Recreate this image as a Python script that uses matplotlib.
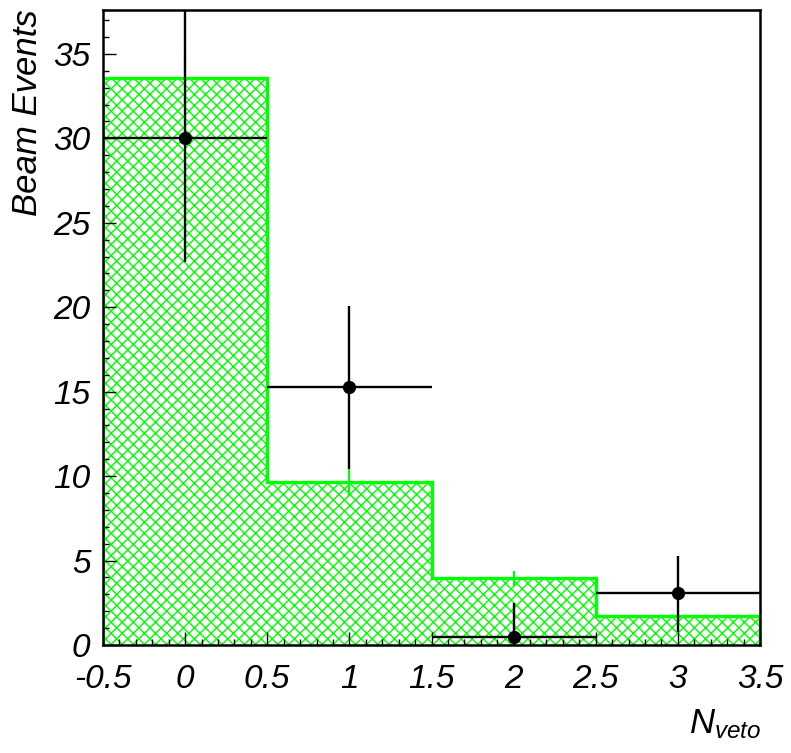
import numpy as np
import matplotlib
matplotlib.use("Agg")
import matplotlib.pyplot as plt
from matplotlib.ticker import FixedLocator, MultipleLocator, FuncFormatter

# ----------------- data -------------------------------------------------------
bin_edges = [-0.5, 0.5, 1.5, 2.5, 3.5]
mc_counts = [33.6, 9.65, 3.95, 1.72]     # expected events (green histogram)
mc_err = [1.5, 0.8, 0.45, 0.3]

n_veto = [0, 1, 2, 3]
data_counts = [30.05, 15.25, 0.47, 3.08]
data_err_lo = [7.4, 4.8, 0.47, 2.3]
data_err_hi = [8.0, 4.8, 2.0, 2.2]

x_ticks = [-0.5, 0, 0.5, 1, 1.5, 2, 2.5, 3, 3.5]
y_ticks = [0, 5, 10, 15, 20, 25, 30, 35]

GREEN = "#00ff00"

plt.rcParams["font.family"] = ["Liberation Sans", "DejaVu Sans"]
plt.rcParams["font.style"] = "italic"
plt.rcParams["mathtext.fontset"] = "custom"
plt.rcParams["mathtext.it"] = "Liberation Sans:italic"
plt.rcParams["mathtext.rm"] = "Liberation Sans:italic"
plt.rcParams["hatch.linewidth"] = 1.0

W, H = 791, 753
fig = plt.figure(figsize=(W / 100, H / 100), dpi=100)
ax = fig.add_axes([103 / W, 1 - 645 / H, (760 - 103) / W, (645 - 10) / H])

# hatched fill, then the outline
ax.stairs(mc_counts, bin_edges, fill=True, facecolor="none", edgecolor=GREEN,
          hatch="xxx", linewidth=0, zorder=1)
centers = 0.5 * (np.array(bin_edges[:-1]) + np.array(bin_edges[1:]))
ax.errorbar(centers, mc_counts, yerr=mc_err, fmt="none", ecolor=GREEN,
            elinewidth=1.5, capsize=0, zorder=2)
ax.stairs(mc_counts, bin_edges, color=GREEN, linewidth=2.4, baseline=0, zorder=2)

ax.errorbar(n_veto, data_counts, xerr=0.5, yerr=[data_err_lo, data_err_hi],
            fmt="o", color="black", ms=8.5, elinewidth=1.7, capsize=0, zorder=3)

ax.set_xlim(-0.5, 3.5)
ax.set_ylim(0, 37.6)
ax.xaxis.set_major_locator(FixedLocator(x_ticks))
ax.xaxis.set_minor_locator(MultipleLocator(0.1))
ax.yaxis.set_major_locator(FixedLocator(y_ticks))
ax.yaxis.set_minor_locator(MultipleLocator(1))
fmt = FuncFormatter(lambda v, pos: f"{v:g}")
ax.xaxis.set_major_formatter(fmt)
ax.yaxis.set_major_formatter(fmt)

ax.tick_params(which="both", direction="in", top=False, right=False, width=1.0)
ax.tick_params(which="major", length=9.5, labelsize=24)
ax.tick_params(axis="x", which="major", pad=14)
ax.tick_params(axis="y", which="major", pad=9)
ax.tick_params(which="minor", length=4.5)
for sp in ax.spines.values():
    sp.set_linewidth(1.8)

fig.text(27.5 / W, 1 - 9 / H, "Beam Events", rotation=90, ha="center", va="top",
         fontsize=25)
fig.text(761 / W, 1 - 733 / H, r"$N_{veto}$", ha="right", va="baseline",
         fontsize=25)

fig.savefig("out.png", dpi=100)
